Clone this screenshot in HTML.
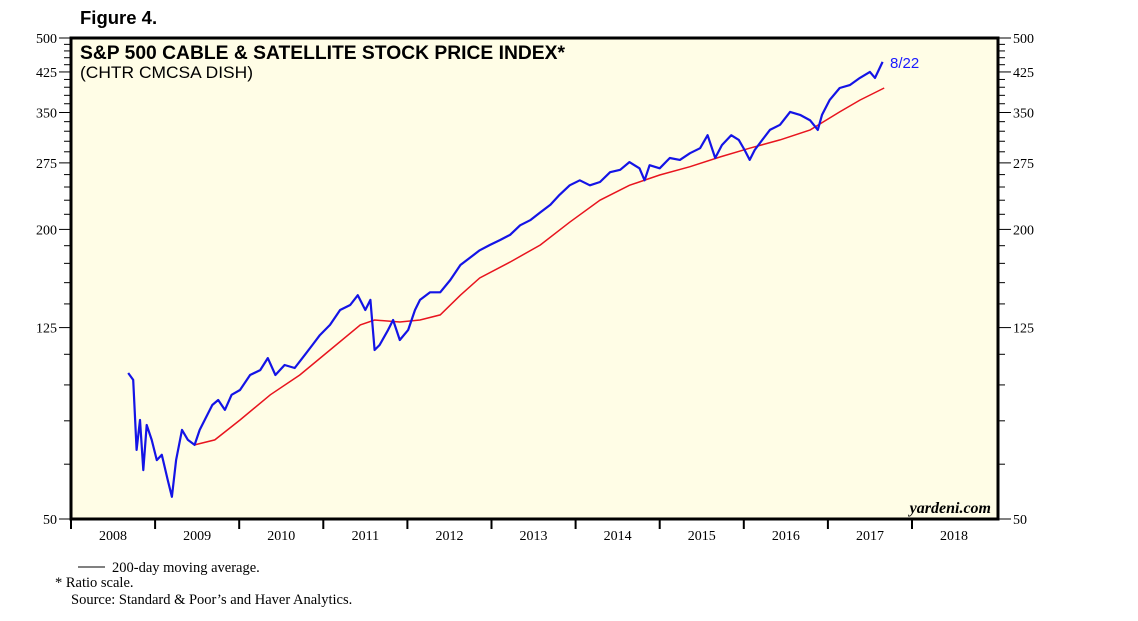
<!DOCTYPE html>
<html><head><meta charset="utf-8"><style>
body{margin:0;background:#fff;}
svg{display:block;}
</style></head><body>
<svg id="chart" width="1138" height="621" xmlns="http://www.w3.org/2000/svg">
<text x="80" y="24" font-family="Liberation Sans, sans-serif" font-weight="bold" font-size="18.5">Figure 4.</text>
<rect x="71" y="38" width="927" height="481" fill="#fffde6" stroke="#000" stroke-width="3"/>
<text x="80" y="59" font-family="Liberation Sans, sans-serif" font-weight="bold" font-size="19" textLength="485" lengthAdjust="spacingAndGlyphs">S&amp;P 500 CABLE &amp; SATELLITE STOCK PRICE INDEX*</text>
<text x="80" y="78" font-family="Liberation Sans, sans-serif" font-size="17" textLength="173" lengthAdjust="spacingAndGlyphs">(CHTR CMCSA DISH)</text>
<text x="991" y="513" text-anchor="end" font-family="Liberation Serif, serif" font-style="italic" font-weight="bold" font-size="16">yardeni.com</text>
<g id="axes"></g>
<g id="series"></g>
<text x="890" y="68" font-family="Liberation Sans, sans-serif" font-size="15" fill="#1a1aff">8/22</text>
<line x1="78" y1="567" x2="105" y2="567" stroke="#000" stroke-width="1"/>
<text x="112" y="572" font-family="Liberation Serif, serif" font-size="14.5">200-day moving average.</text>
<text x="55" y="587" font-family="Liberation Serif, serif" font-size="14.5">*  Ratio scale.</text>
<text x="71" y="604" font-family="Liberation Serif, serif" font-size="14.5">Source: Standard &amp; Poor’s and Haver Analytics.</text>
</svg>
<script>
const yearTicks=[2008,2009,2010,2011,2012,2013,2014,2015,2016,2017,2018];
const yLabels=[50,125,200,275,350,425,500];
const priceDates=[2008.68,2008.74,2008.78,2008.82,2008.86,2008.90,2008.96,2009.02,2009.08,2009.15,2009.20,2009.25,2009.32,2009.39,2009.47,2009.53,2009.59,2009.68,2009.75,2009.83,2009.91,2010.01,2010.13,2010.25,2010.34,2010.43,2010.54,2010.66,2010.78,2010.87,2010.96,2011.08,2011.20,2011.32,2011.41,2011.50,2011.56,2011.61,2011.67,2011.77,2011.83,2011.91,2012.01,2012.09,2012.15,2012.27,2012.39,2012.51,2012.63,2012.74,2012.86,2012.98,2013.10,2013.22,2013.34,2013.46,2013.58,2013.70,2013.81,2013.93,2014.05,2014.17,2014.29,2014.41,2014.53,2014.64,2014.76,2014.82,2014.88,2015.00,2015.12,2015.24,2015.36,2015.48,2015.57,2015.66,2015.74,2015.85,2015.94,2016.01,2016.07,2016.13,2016.22,2016.31,2016.43,2016.55,2016.67,2016.79,2016.88,2016.93,2017.02,2017.14,2017.26,2017.38,2017.50,2017.56,2017.65];
const priceValues=[100.6,97.3,69.6,80.3,63.2,78.4,73,66.3,68,60.3,55.6,66.3,76.6,73,71.3,76.6,80.3,86.3,88.4,84.3,90.6,92.7,99.6,102,108,99.6,104.5,103,109.7,115,120.6,126.6,136,139.3,146,136,142.7,112.3,115,123.6,129.6,117.8,123.6,136,142.7,148,148,157,168.7,174.4,181,185.6,190,194.8,204,209,217,225,236,247,253,247,251,263,266,276,268,253,272,268,281.5,279,288,295,314,281.5,299.5,314,307,292.5,279,292.5,307,322,330,351,346,337,322,346,371.5,393.5,399,413,425,413,446];
const maDates=[2009.47,2009.71,2010.01,2010.37,2010.72,2011.08,2011.44,2011.61,2011.91,2012.15,2012.39,2012.63,2012.86,2013.22,2013.58,2013.93,2014.29,2014.64,2015.00,2015.36,2015.72,2016.07,2016.43,2016.79,2017.14,2017.38,2017.67];
const maValues=[71.3,73,80.3,90.6,99.6,112.3,126.6,129.6,128.4,129.6,132.8,146,158.5,171,185.6,207,230,247,259.5,270,283,295,307,322,351,371.5,393.5];

const NS='http://www.w3.org/2000/svg';
const X0=71,PXY=84.1,YB=519,PXD=481;
function xs(t){return X0+(t-2008)*PXY;}
function ys(v){return YB-Math.log10(v/50)*PXD;}
function mk(tag,attrs,parent){const e=document.createElementNS(NS,tag);for(const k in attrs)e.setAttribute(k,attrs[k]);parent.appendChild(e);return e;}
const axes=document.getElementById('axes');
yearTicks.forEach(function(yr){
  const t=mk('line',{x1:xs(yr),x2:xs(yr),y1:519,y2:529,stroke:'#000','stroke-width':2},axes);
  
  
  const l=mk('text',{x:xs(yr+0.5),y:540,'text-anchor':'middle','font-family':'Liberation Serif, serif','font-size':14},axes);
  l.textContent=yr;
  
  
});
for(let v=65;v<500;v+=15){
  if((v-50)%75===0)continue;
  const a=mk('line',{x1:64,x2:70,y1:ys(v),y2:ys(v),stroke:'#000','stroke-width':1},axes);
  
  
  const b=mk('line',{x1:999,x2:1005,y1:ys(v),y2:ys(v),stroke:'#000','stroke-width':1},axes);
  
  
}
yLabels.forEach(function(v){
  const y=ys(v);
  const a=mk('line',{x1:59,x2:70,y1:y,y2:y,stroke:'#000','stroke-width':1},axes);
  
  
  const b=mk('line',{x1:999,x2:1011,y1:y,y2:y,stroke:'#000','stroke-width':1},axes);
  
  
  const l=mk('text',{x:57,y:y+5,'text-anchor':'end','font-family':'Liberation Serif, serif','font-size':14},axes);
  l.textContent=v;
  
  
  const r=mk('text',{x:1013,y:y+5,'font-family':'Liberation Serif, serif','font-size':14},axes);
  r.textContent=v;
  
  
});
const series=document.getElementById('series');
function pts(d,v){return d.map(function(t,i){return xs(t).toFixed(1)+','+ys(v[i]).toFixed(1);}).join(' ');}
const ma=mk('polyline',{points:pts(maDates,maValues),fill:'none',stroke:'#e8141e','stroke-width':1.5},series);


const pr=mk('polyline',{points:pts(priceDates,priceValues),fill:'none',stroke:'#1414e6','stroke-width':2.2,'stroke-linejoin':'round'},series);


</script>
</body></html>
